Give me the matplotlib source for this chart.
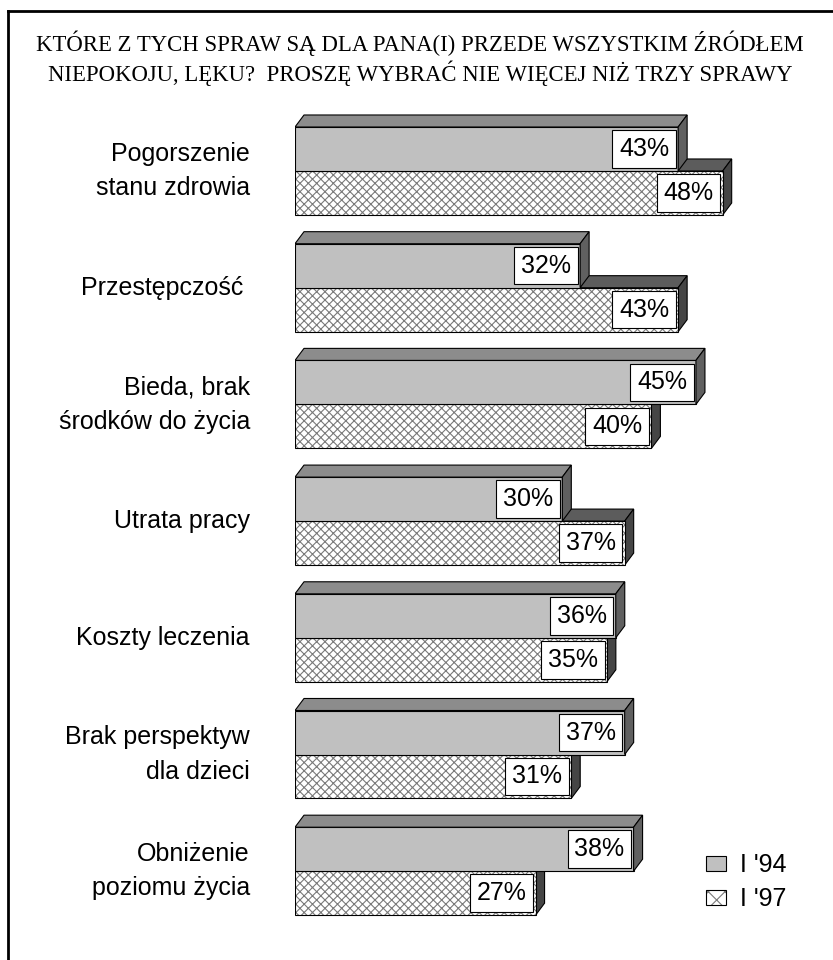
import matplotlib
matplotlib.use("Agg")
import matplotlib.pyplot as plt
from matplotlib.patches import Polygon, Patch
from matplotlib.lines import Line2D
from matplotlib.legend_handler import HandlerTuple

# ---- data ----
title = ("KTÓRE Z TYCH SPRAW SĄ DLA PANA(I) PRZEDE WSZYSTKIM ŹRÓDŁEM\n"
         "NIEPOKOJU, LĘKU?  PROSZĘ WYBRAĆ NIE WIĘCEJ NIŻ TRZY SPRAWY")
categories = ["Pogorszenie\nstanu zdrowia", "Przestępczość ", "Bieda, brak\nśrodków do życia",
              "Utrata pracy", "Koszty leczenia", "Brak perspektyw\ndla dzieci",
              "Obniżenie\npoziomu życia"]
series_names = ["I '94", "I '97"]
values_94 = [43, 32, 45, 30, 36, 37, 38]
values_97 = [48, 43, 40, 37, 35, 31, 27]

# ---- style ----
W, H = 833, 960
sans = ["Liberation Sans", "DejaVu Sans"]
serif = ["Liberation Serif", "DejaVu Serif"]
fs = 18
front94, top94, side94 = "#c0c0c0", "#8c8c8c", "#606060"
top97, side97 = "#5c5c5c", "#454545"
hatch_grey = "#7a7a7a"
bar_h = 0.377
dx, dy = 1.01, 0.103   # depth of the 3-D effect in data units
elw = 0.8
plt.rcParams["hatch.linewidth"] = 0.8

fig = plt.figure(figsize=(W / 100, H / 100), dpi=100)
fig.patch.set_facecolor("white")

# axes: x 0..50 % from px 295 at 8.91 px per %, y groups 116.7 px apart
ax_left, px_per_pct = 295, 8.91
ax_w = 50 * px_per_pct
ax_top = 171 - 0.6 * 116.7
ax_hpx = 7.2 * 116.7
ax = fig.add_axes([ax_left / W, 1 - (ax_top + ax_hpx) / H, ax_w / W, ax_hpx / H])
ax.set_xlim(0, 50)
ax.set_ylim(6.6, -0.6)
ax.axis("off")

n = len(categories)
ys = list(range(n))

# 97 bars (lower) : top + side faces, hatched front
for i, v in enumerate(values_97):
    y0 = ys[i]
    ax.add_patch(Polygon([(0, y0), (v, y0), (v + dx, y0 - dy), (dx, y0 - dy)],
                         closed=True, fc=top97, ec="black", lw=elw, zorder=1))
    ax.add_patch(Polygon([(v, y0), (v, y0 + bar_h), (v + dx, y0 + bar_h - dy), (v + dx, y0 - dy)],
                         closed=True, fc=side97, ec="black", lw=elw, zorder=1))
ax.barh([y + bar_h / 2 for y in ys], values_97, height=bar_h, color="white",
        edgecolor=hatch_grey, hatch="xxxx", linewidth=0, zorder=2)
ax.barh([y + bar_h / 2 for y in ys], values_97, height=bar_h, fill=False,
        edgecolor="black", linewidth=elw, zorder=2.1)

# 94 bars (upper)
ax.barh([y - bar_h / 2 for y in ys], values_94, height=bar_h, color=front94,
        edgecolor="black", linewidth=elw, zorder=3)
for i, v in enumerate(values_94):
    y0 = ys[i] - bar_h
    ax.add_patch(Polygon([(0, y0), (v, y0), (v + dx, y0 - dy), (dx, y0 - dy)],
                         closed=True, fc=top94, ec="black", lw=elw, zorder=3))
    ax.add_patch(Polygon([(v, y0), (v, ys[i]), (v + dx, ys[i] - dy), (v + dx, y0 - dy)],
                         closed=True, fc=side94, ec="black", lw=elw, zorder=3))

# value labels
for vals, off in ((values_94, -bar_h / 2), (values_97, bar_h / 2)):
    for i, v in enumerate(vals):
        ax.annotate(f"{v}%", (v, ys[i] + off), xytext=(-6.5, 0), textcoords="offset points",
                    ha="right", va="center", fontsize=fs, family=sans, zorder=5,
                    bbox=dict(boxstyle="square,pad=0.27", fc="white", ec="black", lw=elw))

# category labels
for i, c in enumerate(categories):
    ax.text(-45 / px_per_pct, ys[i], c, ha="right", va="center", fontsize=fs,
            family=sans, linespacing=1.55)

# legend
h94 = Patch(fc=front94, ec="black", lw=elw)
h97a = Patch(fc="white", ec=hatch_grey, hatch="xx", lw=0)
h97b = Patch(fill=False, ec="black", lw=elw)
fig.legend([h94, (h97a, h97b)], series_names, handler_map={tuple: HandlerTuple(ndivide=1)},
           loc="upper left", bbox_to_anchor=(693 / W, 1 - 841 / H), frameon=False,
           prop=dict(family=sans, size=fs), handlelength=0.8, handleheight=0.55,
           handletextpad=0.6, labelspacing=0.38, borderpad=0)

# title
fig.text(420 / W, 1 - 58 / H, title, ha="center", va="center", fontsize=16.4,
         family=serif, linespacing=1.22)

# frame (left and top lines)
fig.add_artist(Line2D([8 / W, 8 / W], [0, 1 - 11 / H], color="black", lw=2, transform=fig.transFigure))
fig.add_artist(Line2D([8 / W, 1], [1 - 11 / H, 1 - 11 / H], color="black", lw=2, transform=fig.transFigure))

fig.savefig("out.png", dpi=100, facecolor="white")
